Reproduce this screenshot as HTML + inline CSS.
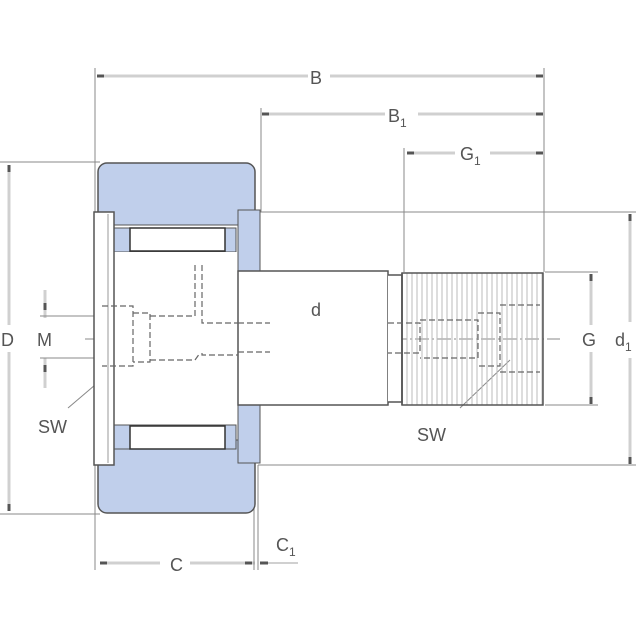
<!DOCTYPE html>
<html><head><style>html,body{margin:0;padding:0;background:#fff}svg{display:block}</style></head><body>
<svg width="640" height="640" viewBox="0 0 640 640" xmlns="http://www.w3.org/2000/svg" font-family="Liberation Sans, sans-serif" fill="none">
<defs>
<pattern id="th" width="5" height="10" patternUnits="userSpaceOnUse"><line x1="2" y1="0" x2="2" y2="10" stroke="#bbb" stroke-width="1"/></pattern>
</defs>
<!-- dimension lines -->
<g stroke="#d0d0d0" stroke-width="3">
<line x1="97" y1="76" x2="308" y2="76"/><line x1="330" y1="76" x2="543" y2="76"/>
<line x1="262" y1="114" x2="385" y2="114"/><line x1="418" y1="114" x2="543" y2="114"/>
<line x1="407" y1="153" x2="455" y2="153"/><line x1="490" y1="153" x2="543" y2="153"/>
<line x1="9" y1="165" x2="9" y2="325"/><line x1="9" y1="352" x2="9" y2="510"/>
<line x1="630" y1="214" x2="630" y2="322"/><line x1="630" y1="358" x2="630" y2="464"/>
<line x1="591" y1="274" x2="591" y2="325"/><line x1="591" y1="352" x2="591" y2="403"/>
<line x1="318" y1="274" x2="318" y2="295"/><line x1="318" y1="322" x2="318" y2="403"/>
<line x1="100" y1="563" x2="160" y2="563"/><line x1="190" y1="563" x2="255" y2="563"/>
<line x1="45" y1="290" x2="45" y2="318"/><line x1="45" y1="358" x2="45" y2="388"/>
</g>
<g stroke="#555" stroke-width="3">
<line x1="97" y1="76" x2="104" y2="76"/><line x1="536" y1="76" x2="543" y2="76"/>
<line x1="262" y1="114" x2="269" y2="114"/><line x1="536" y1="114" x2="543" y2="114"/>
<line x1="407" y1="153" x2="414" y2="153"/><line x1="536" y1="153" x2="543" y2="153"/>
<line x1="9" y1="165" x2="9" y2="172"/><line x1="9" y1="504" x2="9" y2="511"/>
<line x1="630" y1="214" x2="630" y2="221"/><line x1="630" y1="457" x2="630" y2="464"/>
<line x1="591" y1="274" x2="591" y2="281"/><line x1="591" y1="397" x2="591" y2="404"/>
<line x1="318" y1="274" x2="318" y2="281"/><line x1="318" y1="397" x2="318" y2="404"/>
<line x1="100" y1="563" x2="107" y2="563"/><line x1="245" y1="563" x2="252" y2="563"/>
<line x1="260" y1="563" x2="268" y2="563"/>
<line x1="45" y1="303" x2="45" y2="310"/><line x1="45" y1="365" x2="45" y2="372"/>
</g>
<g stroke="#d0d0d0" stroke-width="2"><line x1="268" y1="563" x2="298" y2="563"/></g>
<!-- extension lines -->
<g stroke="#888" stroke-width="1">
<line x1="95" y1="68" x2="95" y2="570"/>
<line x1="544" y1="68" x2="544" y2="272"/>
<line x1="261" y1="108" x2="261" y2="212"/>
<line x1="404" y1="148" x2="404" y2="272"/>
<line x1="0" y1="162" x2="100" y2="162"/><line x1="0" y1="514" x2="100" y2="514"/>
<line x1="258" y1="212" x2="636" y2="212"/><line x1="258" y1="465" x2="636" y2="465"/>
<line x1="545" y1="272" x2="598" y2="272"/><line x1="545" y1="405" x2="598" y2="405"/>
<line x1="40" y1="316" x2="100" y2="316"/><line x1="40" y1="358" x2="100" y2="358"/>
<line x1="254" y1="500" x2="254" y2="570"/><line x1="258" y1="465" x2="258" y2="570"/>
<line x1="85" y1="339" x2="560" y2="339" stroke-dasharray="14 3 2 3"/>
<line x1="68" y1="408" x2="122" y2="362"/>
<line x1="460" y1="408" x2="510" y2="360" />
</g>
<!-- outer ring -->
<rect x="98" y="163" width="157" height="350" rx="9" fill="#c0cfeb" stroke="#555" stroke-width="1.5"/>
<rect x="112" y="225" width="127" height="215" fill="#fff" stroke="#555" stroke-width="1"/>
<!-- roller end pieces -->
<rect x="114" y="228" width="122" height="24" fill="#c0cfeb" stroke="#555"/>
<rect x="130" y="228" width="95" height="23" fill="#fff" stroke="#333" stroke-width="1.5"/>
<rect x="114" y="425" width="122" height="24" fill="#c0cfeb" stroke="#555"/>
<rect x="130" y="426" width="95" height="23" fill="#fff" stroke="#333" stroke-width="1.5"/>
<rect x="114" y="252" width="124" height="172" fill="#fff"/>
<line x1="114" y1="252" x2="114" y2="424" stroke="#555"/>
<!-- left flange -->
<rect x="94" y="212" width="20" height="253" fill="#fff" stroke="#555" stroke-width="1.5"/>
<line x1="108" y1="214" x2="108" y2="463" stroke="#999"/>
<!-- right washer -->
<rect x="238" y="210" width="22" height="61" fill="#c0cfeb" stroke="#555"/>
<rect x="238" y="405" width="22" height="58" fill="#c0cfeb" stroke="#555"/>
<!-- stud -->
<rect x="238" y="271" width="150" height="134" fill="#fff" stroke="#555" stroke-width="1.5"/>
<path d="M388 275 L402 275 L402 402 L388 402" stroke="#555" stroke-width="1.5" fill="#fff"/>
<rect x="402" y="273" width="141" height="132" fill="url(#th)" stroke="#555" stroke-width="1.5"/>
<line x1="402" y1="273" x2="402" y2="405" stroke="#555" stroke-width="1.5"/>
<!-- hidden lines -->
<g stroke="#666" stroke-width="1.2" stroke-dasharray="6 3">
<path d="M102 306 H133 V366 H102"/><path d="M133 313 H150 V362 H133"/>
<path d="M150 316 H195 V265 M150 360 H195 L200 353"/>
<path d="M202 265 V323 H238 M202 353 V355 H238"/>
<path d="M238 323 H270 M238 352 H270"/>
<path d="M388 323 H420 V353 H388"/><path d="M420 320 H478 V358 H420"/>
<path d="M478 313 H500 V366 H478"/><path d="M500 305 H540 M500 372 H540"/>
</g>
<!-- labels -->
<g fill="#555" font-size="18">
<text x="310" y="84">B</text>
<text x="388" y="122">B<tspan font-size="12" dy="5">1</tspan></text>
<text x="460" y="160">G<tspan font-size="12" dy="5">1</tspan></text>
<text x="1" y="346">D</text>
<text x="37" y="346">M</text>
<text x="311" y="316">d</text>
<text x="582" y="346">G</text>
<text x="615" y="346">d<tspan font-size="12" dy="5">1</tspan></text>
<text x="38" y="433">SW</text>
<text x="417" y="441">SW</text>
<text x="170" y="571">C</text>
<text x="276" y="551">C<tspan font-size="12" dy="5">1</tspan></text>
</g>
</svg>
</body></html>
